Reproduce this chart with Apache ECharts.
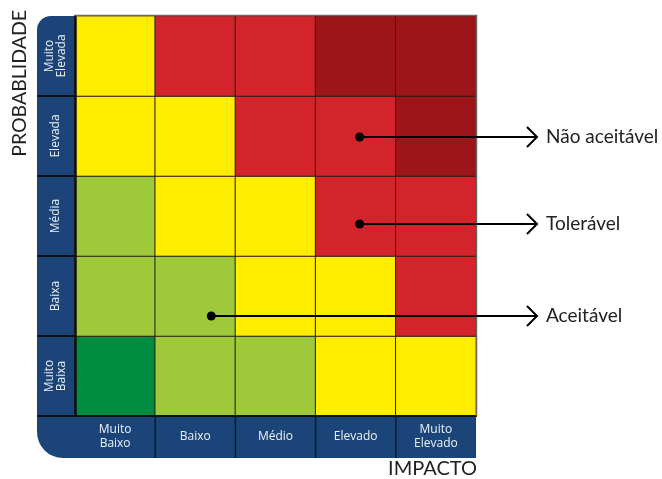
<!DOCTYPE html>
<html>
<head>
<meta charset="utf-8">
<script src="https://cdn.jsdelivr.net/npm/echarts@6/dist/echarts.min.js"></script>
<style>
  html, body { margin: 0; padding: 0; background: #ffffff; }
  #chart { width: 662px; height: 479px; }
</style>
</head>
<body>
<div id="chart"></div>
<script>
// Impact (x) and probability (y, bottom to top) categories
const impacto = ['Muito\nBaixo', 'Baixo', 'Médio', 'Elevado', 'Muito\nElevado'];
const probabilidade = ['Muito\nBaixa', 'Baixa', 'Média', 'Elevada', 'Muito\nElevada'];

// Risk level of each cell, one row per probability level (bottom to top)
const nivelMuitoBaixa = [0, 1, 1, 2, 2];
const nivelBaixa      = [1, 1, 2, 2, 3];
const nivelMedia      = [1, 2, 2, 3, 3];
const nivelElevada    = [2, 2, 3, 3, 4];
const nivelMuitoElev  = [2, 3, 3, 4, 4];

// Colour of each risk level
const coresNivel = ['#008C3E', '#9DC93B', '#FFED00', '#D3232B', '#9D1519'];

// Callouts: text, target cell [impacto index, probabilidade index]
const legendaTextos = ['Não aceitável', 'Tolerável', 'Aceitável'];
const legendaCelulas = [[3, 3], [3, 2], [1, 1]];

const linhas = [nivelMuitoBaixa, nivelBaixa, nivelMedia, nivelElevada, nivelMuitoElev];
const dados = [];
linhas.forEach((linha, y) => linha.forEach((v, x) => dados.push([x, y, v])));

const azul = '#1B4579';
const chart = echarts.init(document.getElementById('chart'));

chart.setOption({
  animation: false,
  grid: { left: 75, top: 16, width: 401, height: 400 },
  xAxis: {
    type: 'category',
    data: impacto,
    position: 'bottom',
    axisLine: { show: true, lineStyle: { color: '#111', width: 2 } },
    axisTick: { show: false },
    axisLabel: {
      color: '#eef2f7', fontFamily: 'Open Sans', fontSize: 12, lineHeight: 14,
      margin: 21, verticalAlign: 'middle', interval: 0
    },
    splitLine: { show: false },
    z: 5
  },
  yAxis: {
    type: 'category',
    data: probabilidade,
    axisLine: { show: true, lineStyle: { color: '#111', width: 2.5 } },
    axisTick: { show: false },
    axisLabel: {
      color: '#eef2f7', fontFamily: 'Open Sans', fontSize: 12, lineHeight: 12,
      rotate: 90, margin: 19, align: 'center', verticalAlign: 'middle', interval: 0
    },
    splitLine: { show: false },
    z: 5
  },
  visualMap: {
    show: false,
    type: 'piecewise',
    dimension: 2,
    pieces: coresNivel.map((c, i) => ({ value: i, color: c }))
  },
  series: [{
    type: 'heatmap',
    data: dados,
    itemStyle: { borderColor: '#2a1a1a', borderWidth: 1 },
    emphasis: { disabled: true },
    z: 2
  }]
});

// Decorations positioned from the grid's coordinate system
const p00 = chart.convertToPixel({ xAxisIndex: 0, yAxisIndex: 0 }, [0, 0]);
const p11 = chart.convertToPixel({ xAxisIndex: 0, yAxisIndex: 0 }, [1, 1]);
const cw = p11[0] - p00[0];
const ch = p00[1] - p11[1];
const gLeft = p00[0] - cw / 2;
const gBottom = p00[1] + ch / 2;
const gRight = gLeft + cw * impacto.length;
const gTop = gBottom - ch * probabilidade.length;
const bandW = 38, bandH = 42;

const graphics = [
  {
    type: 'rect', z: -10, silent: true,
    shape: { x: gLeft - bandW, y: gTop, width: gRight - gLeft + bandW, height: gBottom - gTop + bandH, r: [14, 0, 0, 26] },
    style: { fill: azul }
  },
  {
    type: 'polyline', z: 10, silent: true,
    shape: { points: [[gLeft, gTop - 0.5], [gRight + 0.5, gTop - 0.5], [gRight + 0.5, gBottom]] },
    style: { fill: null, stroke: '#6a6a6a', lineWidth: 1.5 }
  },
  {
    type: 'text', silent: true,
    x: 20, y: gTop - 6, rotation: Math.PI / 2,
    style: { text: 'PROBABLIDADE', fill: '#222', font: '19.5px Lato', align: 'right', verticalAlign: 'middle' }
  },
  {
    type: 'text', silent: true,
    x: gRight + 1, y: gBottom + 53,
    style: { text: 'IMPACTO', fill: '#222', font: '20px Lato', align: 'right', verticalAlign: 'middle' }
  }
];

// Separators across the label bands (row boundaries on the left, column boundaries below)
for (let r = 0; r < probabilidade.length; r++) {
  const y = gBottom - r * ch;
  graphics.push({ type: 'line', z: 6, silent: true, shape: { x1: gLeft - bandW, y1: y, x2: gLeft, y2: y }, style: { stroke: '#111', lineWidth: 2 } });
}
for (let c = 1; c < impacto.length; c++) {
  const x = gLeft + c * cw;
  graphics.push({ type: 'line', z: 6, silent: true, shape: { x1: x, y1: gBottom, x2: x, y2: gBottom + bandH }, style: { stroke: '#0d1a2b', lineWidth: 1.5 } });
}

const ajustes = [[4, 1], [4, 8], [16, 20]];
const pontaX = gRight + 61;
legendaTextos.forEach((txt, i) => {
  const c = chart.convertToPixel({ xAxisIndex: 0, yAxisIndex: 0 }, legendaCelulas[i]);
  const x0 = c[0] + ajustes[i][0];
  const y0 = c[1] + ajustes[i][1];
  graphics.push(
    { type: 'line', z: 20, silent: true, shape: { x1: x0, y1: y0, x2: pontaX, y2: y0 }, style: { stroke: '#000', lineWidth: 2 } },
    { type: 'circle', z: 21, silent: true, shape: { cx: x0, cy: y0, r: 4.5 }, style: { fill: '#000' } },
    { type: 'polyline', z: 20, silent: true, shape: { points: [[pontaX - 10, y0 - 10], [pontaX, y0], [pontaX - 10, y0 + 10]] }, style: { fill: null, stroke: '#000', lineWidth: 2 } },
    { type: 'text', silent: true, x: pontaX + 9, y: y0, style: { text: txt, fill: '#222', font: '19px Lato', align: 'left', verticalAlign: 'middle' } }
  );
});

chart.setOption({ graphic: graphics });
</script>
</body>
</html>
